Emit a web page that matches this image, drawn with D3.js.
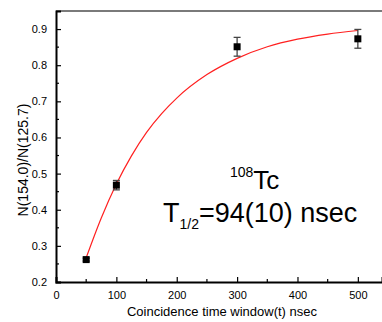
<!DOCTYPE html>
<html>
<head>
<meta charset="utf-8">
<script src="https://cdn.jsdelivr.net/npm/d3@7"></script>
<style>
  body { margin: 0; background: #fff; }
  svg { display: block; font-family: "Liberation Sans", Arial, sans-serif; }
</style>
</head>
<body>
<svg id="chart" width="382" height="322"></svg>
<script>
// measured points
const windowT = [50, 100, 300, 500]
const ratio = [0.262, 0.468, 0.851, 0.873]
const ratioErr = [0.004, 0.013, 0.026, 0.026]

// fitted curve
const fitT = [50, 75, 100, 125, 150, 175, 200, 250, 300, 350, 400, 450, 500]
const fitV = [0.267, 0.377, 0.471, 0.549, 0.614, 0.666, 0.709, 0.774, 0.819, 0.851, 0.872, 0.886, 0.896]

const xTicks = [0, 100, 200, 300, 400, 500]
const xMinor = [50, 150, 250, 350, 450]
const yTicks = [0.2, 0.3, 0.4, 0.5, 0.6, 0.7, 0.8, 0.9]
const yMinor = [0.25, 0.35, 0.45, 0.55, 0.65, 0.75, 0.85]

const margin = { top: 11, right: 0, bottom: 40, left: 56 }
const width = 382
const height = 322

const svg = d3.select('#chart')

const xScale = d3.scaleLinear()
    .domain([0, 540])
    .range([margin.left, width - margin.right])
const yScale = d3.scaleLinear()
    .domain([0.2, 0.95])
    .range([height - margin.bottom, margin.top])

// top frame line (gray)
svg.append('line')
    .attr('x1', margin.left).attr('x2', width)
    .attr('y1', margin.top).attr('y2', margin.top)
    .attr('stroke', '#7a7a7a').attr('stroke-width', 2)

// x axis, ticks pointing inward
const xAxis = d3.axisBottom(xScale).tickValues(xTicks).tickSize(-5).tickPadding(9)
const gx = svg.append('g')
    .attr('transform', `translate(0,${height - margin.bottom})`)
    .call(xAxis)
gx.select('.domain').attr('stroke-width', 2)
gx.selectAll('.tick line').attr('stroke-width', 1.2)
gx.selectAll('.tick text').attr('font-size', 11).attr('font-family', '"Liberation Sans", Arial, sans-serif')
gx.selectAll('.minor').data(xMinor).enter().append('line')
    .attr('x1', d => xScale(d)).attr('x2', d => xScale(d))
    .attr('y1', 0).attr('y2', -3)
    .attr('stroke', '#000').attr('stroke-width', 1.2)

const yAxis = d3.axisLeft(yScale).tickValues(yTicks).tickSize(-5).tickPadding(9)
    .tickFormat(d3.format('.1f'))
const gy = svg.append('g')
    .attr('transform', `translate(${margin.left},0)`)
    .call(yAxis)
gy.select('.domain').attr('stroke-width', 2)
gy.selectAll('.tick line').attr('stroke-width', 1.2)
gy.selectAll('.tick text').attr('font-size', 11).attr('font-family', '"Liberation Sans", Arial, sans-serif')
gy.selectAll('.minor').data(yMinor).enter().append('line')
    .attr('y1', d => yScale(d)).attr('y2', d => yScale(d))
    .attr('x1', 0).attr('x2', 3)
    .attr('stroke', '#000').attr('stroke-width', 1.2)

// axis titles
svg.append('text')
    .attr('x', 222).attr('y', 316)
    .attr('text-anchor', 'middle')
    .attr('font-size', 13)
    .text('Coincidence time window(t) nsec')

svg.append('text')
    .attr('transform', 'translate(28,160) rotate(-90)')
    .attr('text-anchor', 'middle')
    .attr('font-size', 14)
    .text('N(154.0)/N(125.7)')

// fit curve
const line = d3.line()
    .x((d, i) => xScale(fitT[i]))
    .y(d => yScale(d))
    .curve(d3.curveMonotoneX)
svg.append('path')
    .attr('d', line(fitV))
    .attr('fill', 'none')
    .attr('stroke', '#ff2020')
    .attr('stroke-width', 1.2)

// error bars
const pts = windowT.map((t, i) => ({ t: t, v: ratio[i], e: ratioErr[i] }))
const eb = svg.append('g').attr('stroke', '#444').attr('stroke-width', 1.3)
eb.selectAll('.ev').data(pts).enter().append('line')
    .attr('x1', d => xScale(d.t)).attr('x2', d => xScale(d.t))
    .attr('y1', d => yScale(d.v - d.e)).attr('y2', d => yScale(d.v + d.e))
eb.selectAll('.et').data(pts).enter().append('line')
    .attr('x1', d => xScale(d.t) - 3.5).attr('x2', d => xScale(d.t) + 3.5)
    .attr('y1', d => yScale(d.v + d.e)).attr('y2', d => yScale(d.v + d.e))
eb.selectAll('.eb').data(pts).enter().append('line')
    .attr('x1', d => xScale(d.t) - 3.5).attr('x2', d => xScale(d.t) + 3.5)
    .attr('y1', d => yScale(d.v - d.e)).attr('y2', d => yScale(d.v - d.e))

// markers
svg.selectAll('.pt').data(pts).enter().append('rect')
    .attr('x', d => xScale(d.t) - 3.5)
    .attr('y', d => yScale(d.v) - 3.5)
    .attr('width', 7).attr('height', 7)
    .attr('fill', '#000')

// annotation
const ann = svg.append('g').attr('fill', '#000')
const l1 = ann.append('text').attr('x', 230).attr('y', 189).attr('font-size', 26)
l1.append('tspan').attr('font-size', 14).attr('dy', -12).text('108')
l1.append('tspan').attr('dy', 12).text('Tc')
const l2 = ann.append('text').attr('x', 163).attr('y', 222).attr('font-size', 27)
l2.append('tspan').text('T')
l2.append('tspan').attr('font-size', 14).attr('dy', 7).text('1/2')
l2.append('tspan').attr('dy', -7).text('=94(10) nsec')
</script>
</body>
</html>
